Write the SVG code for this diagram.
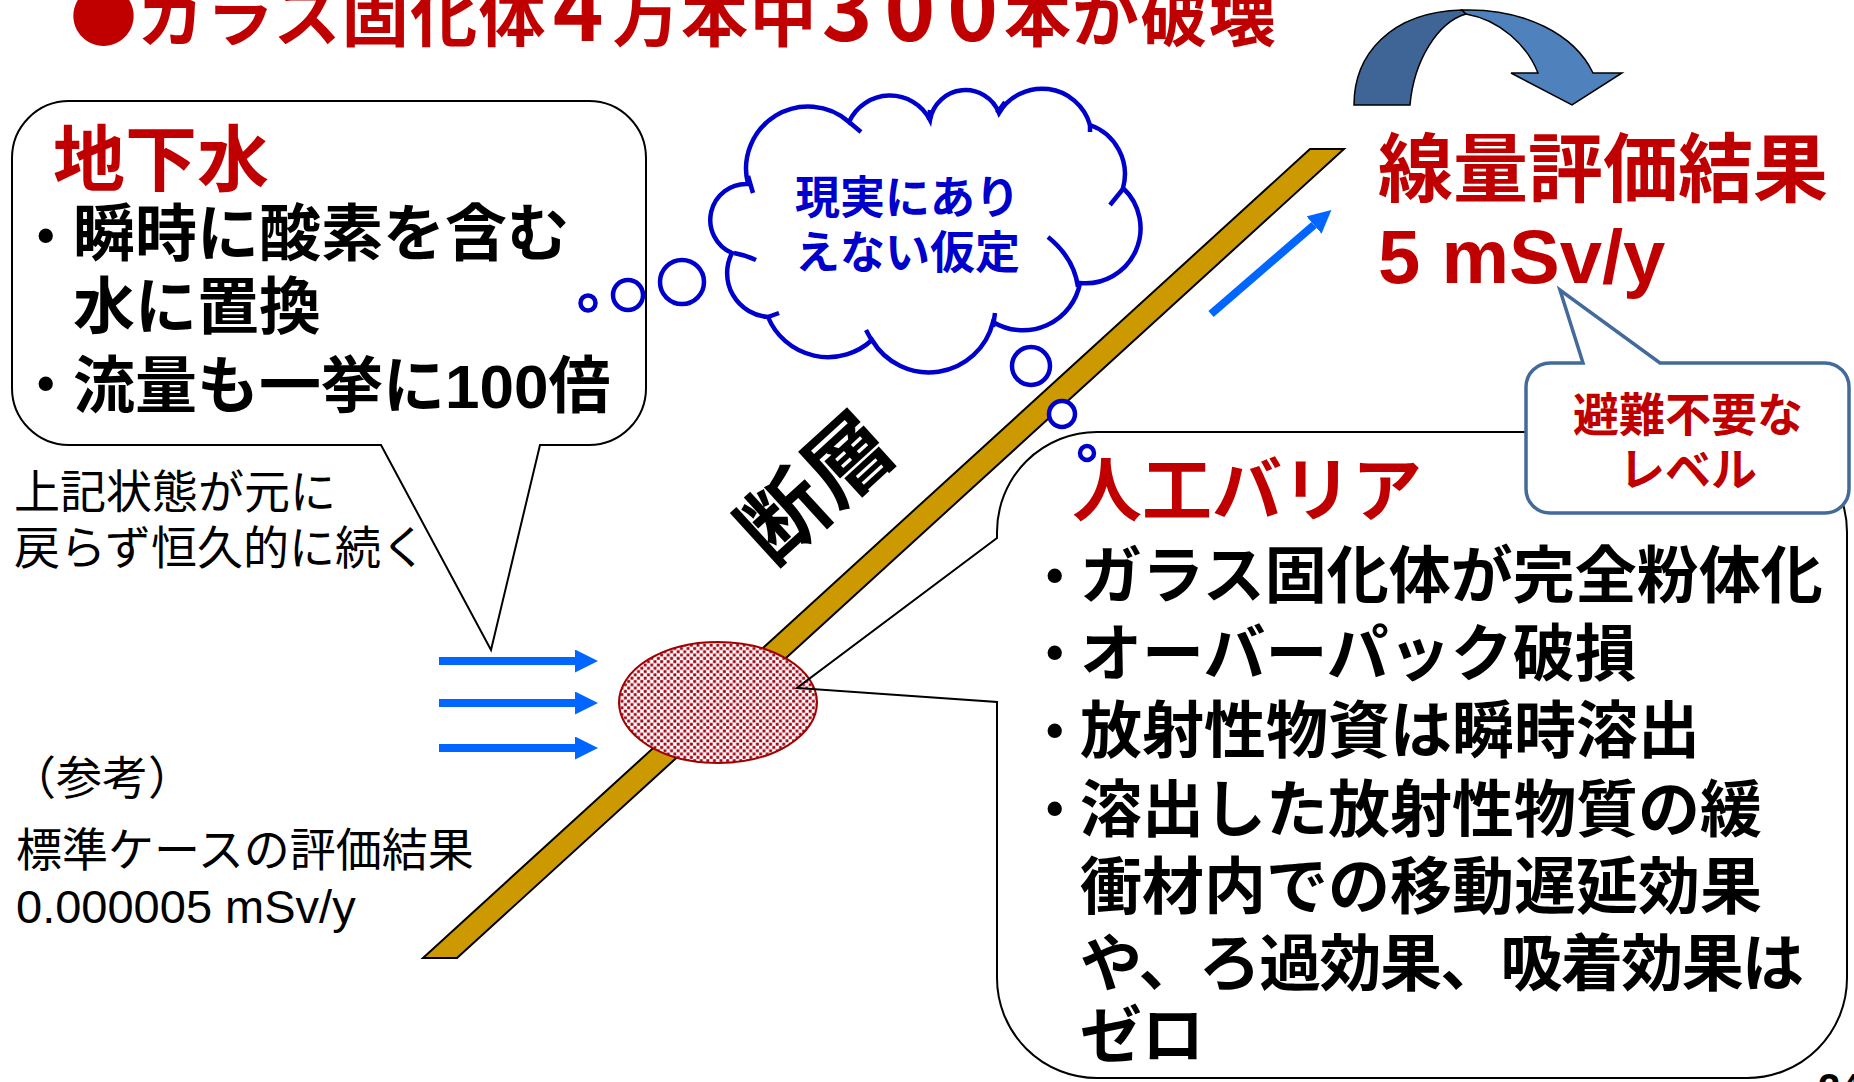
<svg xmlns="http://www.w3.org/2000/svg" width="1854" height="1082" viewBox="0 0 1854 1082">
<style>
.jp{font-family:'Noto Sans CJK JP','Noto Sans CJK SC',sans-serif}
.lat{font-family:'Liberation Sans',Arial,sans-serif}
.b{font-weight:700}
.red{fill:#C00000}
.blk{fill:#000}
.blu{fill:#0000CC}
.co{fill:#fff;stroke:#000;stroke-width:2}
.cl{fill:#fff;stroke:#0000CC;stroke-width:4.5}
.stub{fill:none;stroke:#0000CC;stroke-width:4.5}
.flow{stroke:#0066FF;stroke-width:8;fill:none}
</style>
<defs>
<marker id="ah" viewBox="0 0 23 23" markerWidth="23" markerHeight="23" markerUnits="userSpaceOnUse" refX="0" refY="11.5" orient="auto">
<path d="M0,0 L23,11.5 L0,23 Z" fill="#0066FF"/>
</marker>
<pattern id="dots" width="6.6" height="6.6" patternUnits="userSpaceOnUse">
<rect width="6.6" height="6.6" fill="#fff"/>
<rect x="0.2" y="0.2" width="2.9" height="2.9" fill="#A00010"/>
<rect x="3.5" y="3.5" width="2.9" height="2.9" fill="#A00010"/>
</pattern>
</defs>
<rect width="1854" height="1082" fill="#fff"/>

<g id="title">
<text x="70" y="41" class="jp b red" font-size="67" letter-spacing="1.3">●ガラス固化体<tspan dx="6" font-size="86">4</tspan><tspan dx="8">万本中</tspan><tspan dx="4" font-size="86" letter-spacing="12">300</tspan><tspan dx="-6">本が破壊</tspan></text>
</g>

<g id="curved-arrow" stroke="#000" stroke-width="1.5">
<path d="M1354,105 C1354,55 1390,12 1462,10 L1466,14 C1438,22 1414,60 1410,105 Z" fill="#3E6595"/>
<path d="M1462,10 C1525,8 1575,35 1593,73 L1622,73 L1572,105 L1511,73 L1538,73 C1527,45 1500,20 1466,14 Z" fill="#4F81BD"/>
</g>

<g id="fault">
<path d="M423,958 L457,958 L1344,149 L1310,149 Z" fill="#CC9900" stroke="#000" stroke-width="2"/>
<text transform="translate(815,487) rotate(-42.4)" x="0" y="32" text-anchor="middle" font-size="86" class="jp b blk">断層</text>
</g>

<g id="source">
<ellipse cx="718" cy="702.5" rx="99" ry="60.5" fill="url(#dots)" stroke="#A00000" stroke-width="2"/>
</g>

<g id="callout-groundwater">
<path class="co" d="M69,101 H589 A57,57 0 0 1 646,158 V388 A57,57 0 0 1 589,445 H540 L491,650 L381,445 H69 A57,57 0 0 1 12,388 V158 A57,57 0 0 1 69,101 Z"/>
<text x="53" y="185" font-size="72" class="jp b red">地下水</text>
<text x="37" y="252" font-size="50" class="lat b blk">•</text>
<text x="73" y="256" font-size="62" class="jp b blk">瞬時に酸素を含む</text>
<text x="73" y="329" font-size="62" class="jp b blk">水に置換</text>
<text x="37" y="400" font-size="50" class="lat b blk">•</text>
<text x="73" y="408" font-size="62" class="jp b blk">流量も一挙に<tspan class="lat">100</tspan>倍</text>
</g>

<g id="callout-barrier">
<path d="M1097,432 H1747 A100,100 0 0 1 1847,532 V978 A100,100 0 0 1 1747,1078 H1097 A100,100 0 0 1 997,978 V702 L797,688 L997,538 V532 A100,100 0 0 1 1097,432 Z" fill="none" stroke="#000" stroke-width="2"/>
<text x="1072" y="516" font-size="70" class="jp b red">人工バリア</text>
<g class="lat b blk" font-size="50">
<text x="1046" y="592">•</text>
<text x="1046" y="669">•</text>
<text x="1046" y="747">•</text>
<text x="1046" y="825">•</text>
</g>
<g class="jp b blk" font-size="62">
<text x="1080" y="598">ガラス固化体が完全粉体化</text>
<text x="1080" y="676">オーバーパック破損</text>
<text x="1080" y="753">放射性物資は瞬時溶出</text>
<text x="1080" y="832">溶出した放射性物質の緩</text>
<text x="1080" y="909">衝材内での移動遅延効果</text>
<text x="1080" y="986" textLength="724" lengthAdjust="spacing">や、ろ過効果、吸着効果は</text>
<text x="1080" y="1058">ゼロ</text>
</g>
</g>

<g id="cloud">
<path class="cl" d="M748,184 A62,62 0 0 1 849,122 A45,45 0 0 1 930,120 A36,36 0 0 1 999,113 A50,50 0 0 1 1090,125 A52,52 0 0 1 1123,188 A55,55 0 0 1 1080,283 A58,58 0 0 1 993,322 A66,66 0 0 1 872,340 A65,65 0 0 1 768,317 A44,44 0 0 1 732,253 A36,36 0 0 1 748,184 Z"/>
<path class="stub" d="M734,253 Q745,255 756,260 M768,317 L779,313 M866,330 L872,341 M995,313 L993,327 M1048,237 Q1074,258 1078,287 M1110,205 L1123,189 M1090,132 L1090,124 M1005,102 L997,113 M930,110 L929,120 M861,132 L849,122 M748,176 L753,193"/>
<g class="cl">
<circle cx="682" cy="282" r="22"/>
<circle cx="628" cy="295" r="15"/>
<circle cx="588" cy="303" r="7.5"/>
<circle cx="1031" cy="366" r="19"/>
<circle cx="1062" cy="414" r="13"/>
<circle cx="1087" cy="453" r="7"/>
</g>
<text x="795" y="214" font-size="45" class="jp b blu">現実にあり</text>
<text x="795" y="269" font-size="45" class="jp b blu">えない仮定</text>
</g>

<g id="dose-result">
<text x="1378" y="196" font-size="75" class="jp b red">線量評価結果</text>
<text x="1378" y="283" font-size="76" class="lat b red">5 mSv/y</text>
</g>

<g id="callout-evac">
<path d="M1550,363 H1583 L1560,290 L1660,363 H1825 A24,24 0 0 1 1849,387 V489 A24,24 0 0 1 1825,513 H1550 A24,24 0 0 1 1526,489 V387 A24,24 0 0 1 1550,363 Z" fill="#fff" stroke="#436A9A" stroke-width="3.5"/>
<text x="1688" y="431" font-size="46" text-anchor="middle" class="jp b red">避難不要な</text>
<text x="1688" y="486" font-size="46" text-anchor="middle" class="jp b red">レベル</text>
</g>

<g id="notes" class="jp blk" font-size="46">
<text x="14" y="508">上記状態が元に</text>
<text x="14" y="564">戻らず恒久的に続く</text>
<text x="10" y="794">（参考）</text>
<text x="16" y="866">標準ケースの評価結果</text>
<text x="16" y="923" class="lat" font-size="47">0.000005 mSv/y</text>
</g>

<g id="connectors">
<line class="flow" x1="439" y1="661" x2="575" y2="661" marker-end="url(#ah)"/>
<line class="flow" x1="439" y1="703" x2="575" y2="703" marker-end="url(#ah)"/>
<line class="flow" x1="439" y1="748" x2="575" y2="748" marker-end="url(#ah)"/>
<line class="flow" x1="1211" y1="314" x2="1314" y2="225" marker-end="url(#ah)"/>
</g>

<g id="page-number">
<text x="1818" y="1102" font-size="40" class="lat b blk">24</text>
</g>
</svg>
